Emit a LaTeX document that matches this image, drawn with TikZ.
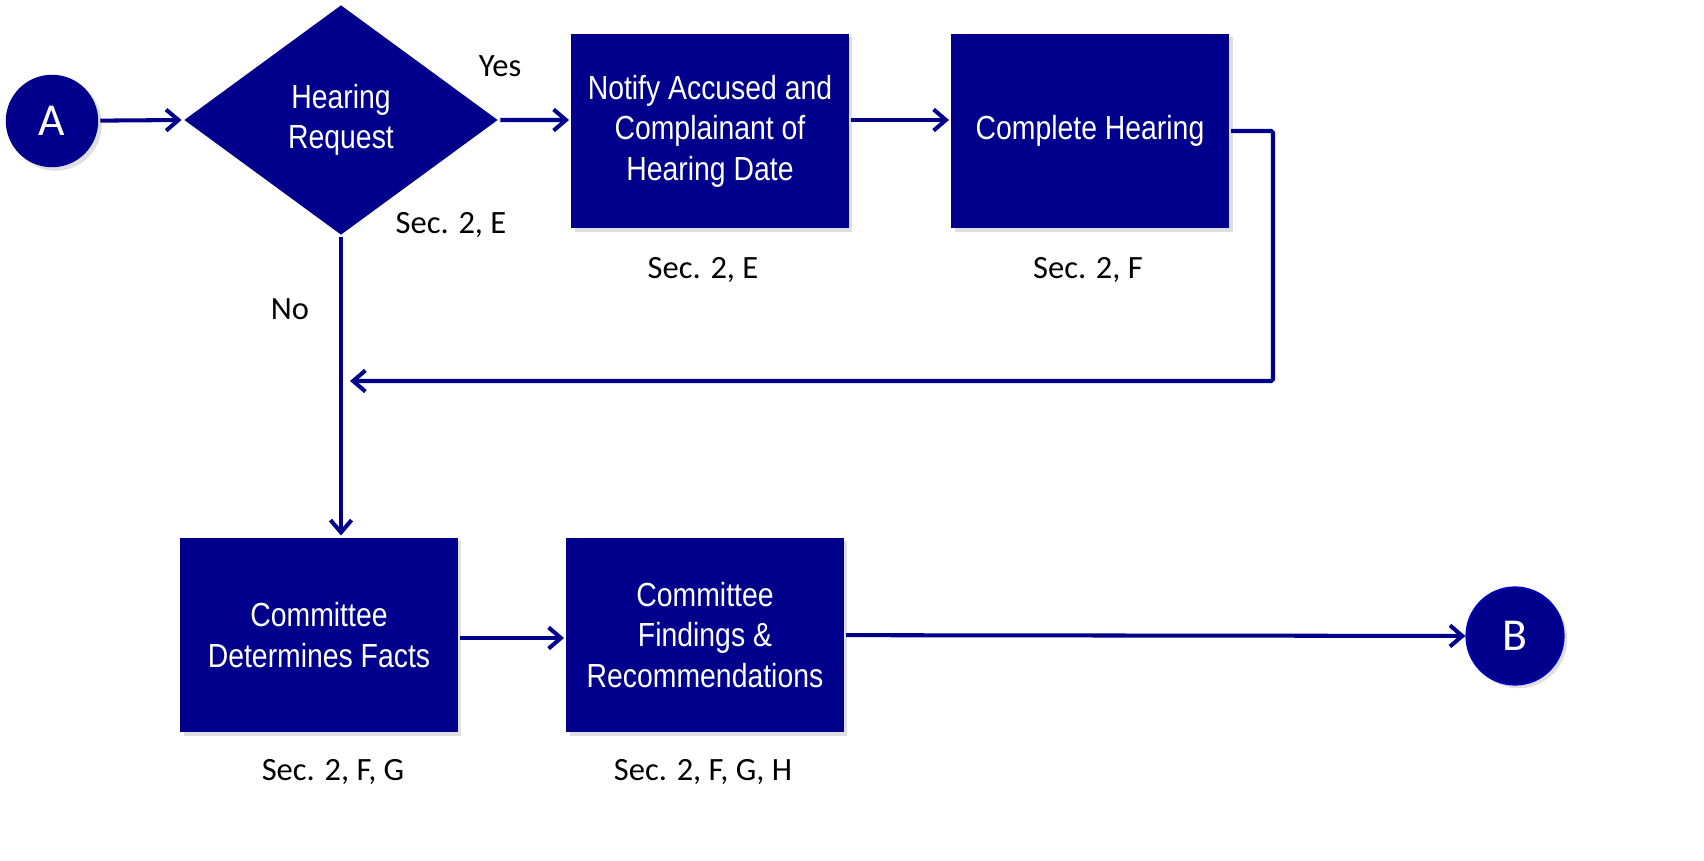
\documentclass[tikz,border=0pt]{standalone}
\usepackage{fontspec}
\setmainfont{Liberation Sans}
\newfontfamily\boxfont[FakeStretch=0.85]{Liberation Sans}
\newfontfamily\notefont{Carlito}
\usetikzlibrary{arrows.meta,shapes.geometric,shadows}
\definecolor{navy}{RGB}{0,0,140}

\begin{document}
\begin{tikzpicture}[x=0.02cm,y=-0.02cm,
  line width=2.3pt,draw=navy,
  conn/.style={navy,-{Straight Barb[length=7pt,width=12pt,line width=2.3pt]}},
  stepbox/.style={fill=navy,text=white,minimum width=5.56cm,minimum height=3.9cm,
    align=center,font=\boxfont\fontsize{19}{23}\selectfont,inner sep=0pt,
    drop shadow={opacity=0.25,shadow xshift=2pt,shadow yshift=-2pt}},
  decision/.style={diamond,fill=navy,text=white,minimum width=6.3cm,minimum height=4.62cm,
    align=center,font=\boxfont\fontsize{19}{23}\selectfont,inner sep=0pt},
  link/.style={circle,fill=navy,text=white,minimum size=1.85cm,inner sep=0pt,
    font=\notefont\fontsize{26}{30}\selectfont,
    drop shadow={opacity=0.25,shadow xshift=2pt,shadow yshift=-2pt}},
  note/.style={font=\notefont\fontsize{18.5}{22}\selectfont,text=black}]

  \useasboundingbox (0,0) rectangle (1704,861);

  \node[link] (A) at (52,121) {A};
  \node[decision] (hr) at (341,120) {Hearing\\Request};
  \node[stepbox] (notify) at (710,131) {Notify Accused and\\Complainant of\\Hearing Date};
  \node[stepbox] (hearing) at (1090,131) {Complete Hearing};
  \node[stepbox] (facts) at (319,635) {Committee\\Determines Facts};
  \node[stepbox] (findings) at (705,635) {Committee\\Findings \&\\Recommendations};
  \node[link,draw=blue!40!navy,line width=1pt,minimum size=1.95cm] (B) at (1515,636) {B};

  \node[note] (yes) at (500,66) {Yes};
  \node[note] (no) at (290,309) {No};
  \node[note] (s1) at (451,225) {Sec. 2, E};
  \node[note] (s2) at (703,270) {Sec. 2, E};
  \node[note] (s3) at (1088,270) {Sec. 2, F};
  \node[note] (s4) at (333,772) {Sec. 2, F, G};
  \node[note] (s5) at (703,772) {Sec. 2, F, G, H};

  \coordinate (back) at (350,381);

  \path[conn]
    (A) edge (hr.west)
    (hr.east) edge ([yshift=0.22cm]notify.west)
    ([yshift=0.22cm]notify.east) edge ([yshift=0.22cm]hearing.west)
    (hr.south) edge (hr.south |- facts.north)
    ([yshift=-0.06cm]facts.east) edge ([yshift=-0.06cm]findings.west)
    (findings) edge (B);

  \draw[conn,rounded corners=1pt] (hearing.east) -| (1273,381) -- (back);

\end{tikzpicture}
\end{document}
